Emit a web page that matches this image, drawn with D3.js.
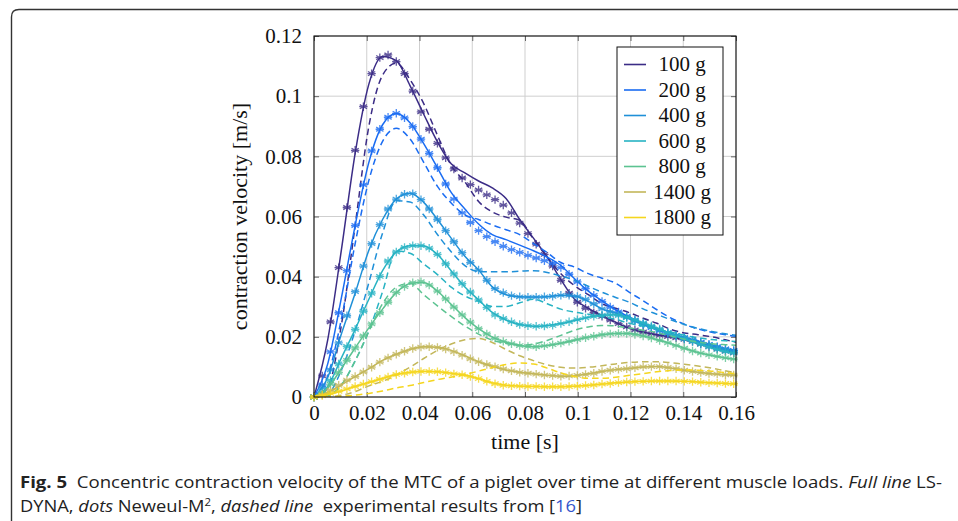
<!DOCTYPE html>
<html><head><meta charset="utf-8">
<script src="https://cdn.jsdelivr.net/npm/d3@7"></script>
<style>body{margin:0;background:#fff}svg{display:block}</style>
</head><body>
<svg id="c" width="958" height="521"></svg>
<script>
// ---------- data ----------
const loads = ["100 g","200 g","400 g","600 g","800 g","1400 g","1800 g"];
const colors = ["#3b2c86","#1a6cf2","#1f90d8","#27b3c3","#5cc391","#c3b75a","#f5d61e"];
const xTicks = [0,0.02,0.04,0.06,0.08,0.1,0.12,0.14,0.16];
const xTickLabels = ["0","0.02","0.04","0.06","0.08","0.1","0.12","0.14","0.16"];
const yTicks = [0,0.02,0.04,0.06,0.08,0.1,0.12];
const yTickLabels = ["0","0.02","0.04","0.06","0.08","0.1","0.12"];
const solidStep = 0.0052;   // sampling of LS-DYNA and experimental curves [s]
const dotStep = 0.00312;    // sampling of Neweul-M² points [s]

// LS-DYNA (full lines)
const solid100 = [0,.019,.049,.081,.104,.1132,.1118,.1035,.094,.0848,.0775,.0745,.0718,.0695,.066,.059,.0528,.0465,.039,.0325,.0295,.027,.0248,.0228,.0215,.0207,.02,.0192,.0178,.0165,.0153,.0145,.0138];
const solid200 = [0,.011,.033,.057,.078,.0905,.0942,.0912,.0842,.0762,.068,.0625,.0575,.054,.0523,.0505,.0486,.0465,.0437,.0393,.0352,.032,.029,.0265,.0245,.0225,.021,.0197,.0185,.0172,.016,.0152,.0145];
const solid400 = [0,.0065,.021,.0345,.0488,.059,.0658,.0677,.0647,.059,.0528,.0468,.0422,.0366,.034,.0333,.0332,.0333,.0338,.0336,.0318,.0293,.0279,.026,.0241,.0226,.021,.0197,.0183,.0171,.0159,.0149,.0142];
const solid600 = [0,.0035,.013,.0225,.0325,.042,.0482,.0503,.0502,.0474,.042,.0366,.0323,.0281,.0256,.0241,.0235,.0238,.0244,.0254,.0265,.0272,.0273,.0263,.0246,.0229,.021,.0193,.0178,.0163,.0151,.0143,.0137];
const solid800 = [0,.003,.0095,.0163,.023,.0292,.0347,.0377,.0381,.0352,.0308,.0264,.0227,.0199,.0182,.0171,.0167,.0171,.0179,.0189,.0199,.0207,.0211,.0211,.0203,.0191,.0178,.0162,.0148,.0138,.013,.0124,.012];
const solid1400 = [0,.0015,.004,.0068,.0094,.0122,.0142,.0158,.0167,.0165,.0155,.0137,.0117,.0102,.009,.0082,.0077,.0072,.0069,.0071,.0077,.0085,.0091,.0095,.01,.0101,.0096,.0089,.0082,.0077,.0074,.0072,.007];
const solid1800 = [0,.0008,.002,.0035,.0048,.0062,.0075,.0082,.0085,.0084,.0079,.0073,.0061,.0047,.0039,.0036,.0035,.0034,.0034,.0036,.0039,.0043,.0047,.005,.0052,.0053,.0053,.0052,.005,.0047,.0045,.0043,.0042];

// experimental (dashed lines)
const dashed100 = [0,.003,.024,.057,.09,.107,.111,.1055,.0975,.087,.077,.0715,.065,.0615,.0598,.0587,.0525,.0465,.041,.037,.034,.031,.0295,.028,.0262,.0245,.0225,.0213,.0207,.02,.019,.018,.017];
const dashed200 = [0,.007,.026,.051,.072,.085,.0893,.0858,.078,.07,.0645,.0605,.059,.0572,.0556,.054,.051,.048,.0447,.0432,.041,.0395,.0378,.0348,.032,.029,.0263,.0242,.0226,.0215,.0207,.0201,.0197];
const dashed400 = [0,.001,.009,.022,.038,.0545,.0652,.0648,.0605,.054,.0483,.0437,.0417,.0416,.0416,.0418,.042,.0414,.0402,.0388,.0368,.0348,.0331,.0315,.0293,.0275,.0257,.0241,.0228,.0218,.021,.0204,.0199];
const dashed600 = [0,.0005,.004,.012,.022,.035,.0485,.0478,.0442,.0407,.0365,.0336,.0318,.0301,.0301,.0313,.0325,.031,.0292,.0282,.0275,.0267,.0258,.0245,.0235,.0226,.0216,.0205,.0197,.0191,.0187,.0184,.0182];
const dashed800 = [0,.0003,.004,.012,.0218,.031,.0365,.0378,.034,.0303,.0268,.0236,.0209,.0189,.0178,.0172,.0176,.0188,.0205,.0222,.0233,.0238,.0236,.0229,.0222,.0214,.0203,.0192,.0183,.0177,.0174,.0172,.0171];
const dashed1400 = [0,.0001,.0006,.0018,.0037,.0052,.0073,.0099,.0128,.0155,.0176,.019,.0195,.0181,.0158,.0137,.0121,.0107,.0099,.0096,.0099,.0104,.011,.0115,.0117,.0117,.0114,.0109,.0103,.0096,.0087,.0079,.0074];
const dashed1800 = [0,0,.0002,.0006,.0012,.002,.003,.0038,.0048,.0058,.0066,.0075,.0086,.0098,.0108,.0113,.011,.0096,.008,.0068,.0062,.0062,.0066,.0072,.0078,.0084,.0088,.009,.0089,.0086,.0081,.0076,.0071];

// Neweul-M² (dots)
const dots100 = [0,.007,.025,.043,.063,.082,.0965,.1075,.1128,.1137,.1115,.1075,.1017,.0948,.089,.0843,.0795,.0758,.0728,.0706,.0688,.0672,.0656,.0638,.0612,.0578,.0543,.0508,.0474,.0435,.0388,.0345,.0315,.0295,.028,.0268,.0256,.0244,.0233,.0223,.0216,.021,.0205,.0201,.0197,.0192,.0185,.0176,.0168,.016,.0153,.0147,.0142,.0138];
const dots200 = [0,.004,.015,.028,.042,.057,.0705,.0818,.089,.093,.0943,.0928,.0899,.0857,.081,.0762,.0708,.0658,.0612,.058,.0553,.0533,.0516,.0501,.049,.0481,.0471,.0462,.0453,.0444,.043,.0408,.0383,.036,.0338,.0318,.0299,.0283,.0268,.0255,.0243,.0231,.022,.0211,.0204,.0197,.019,.0182,.0175,.0167,.016,.0155,.015,.0146];
const dots400 = [0,.003,.009,.018,.027,.035,.0435,.051,.0573,.0625,.0658,.0674,.0676,.0656,.0625,.059,.0553,.0516,.048,.0447,.0422,.0388,.036,.0347,.0337,.0333,.0332,.0332,.0333,.0335,.0338,.0338,.0334,.0325,.031,.0293,.0284,.0275,.0264,.0252,.0241,.0232,.0223,.0214,.0205,.0197,.0189,.0181,.0174,.0166,.0159,.0153,.0147,.0143];
const dots600 = [0,.0015,.0055,.011,.0168,.0225,.0285,.0345,.0401,.0452,.0482,.0497,.0503,.0503,.0495,.0474,.0443,.0409,.0377,.0349,.0323,.0297,.0272,.0261,.025,.0241,.0237,.0235,.0236,.0238,.0244,.025,.0257,.0263,.0268,.0272,.0273,.0271,.0265,.0256,.0246,.0236,.0226,.0214,.0203,.0193,.0184,.0175,.0166,.0158,.0151,.0146,.0141,.0138];
const dots800 = [0,.0012,.0043,.0082,.0122,.0163,.0203,.0243,.028,.0315,.0347,.0367,.038,.0383,.0372,.0352,.0326,.0299,.0273,.0249,.0227,.021,.0195,.0185,.0177,.0171,.0168,.0167,.017,.0174,.0179,.0185,.0191,.0197,.0202,.0207,.021,.0211,.0211,.0208,.0203,.0196,.0188,.018,.0171,.0162,.0153,.0146,.014,.0135,.013,.0126,.0123,.012];
const dots1400 = [0,.0008,.0023,.0039,.0056,.0068,.0083,.0099,.0116,.013,.0142,.0152,.0161,.0166,.0167,.0165,.0159,.015,.0139,.0127,.0117,.0108,.0101,.0093,.0087,.0082,.0079,.0076,.0073,.0071,.0069,.007,.0072,.0075,.0079,.0085,.0089,.0092,.0094,.0097,.01,.0101,.0101,.0098,.0094,.0089,.0085,.0081,.0078,.0076,.0074,.0073,.0072,.007];
const dots1800 = [0,.0005,.0012,.0019,.0027,.0035,.0043,.0051,.0059,.0067,.0075,.0079,.0083,.0085,.0085,.0084,.0081,.0077,.0074,.0068,.0061,.0052,.0044,.0039,.0037,.0036,.0035,.0035,.0034,.0034,.0034,.0035,.0036,.0038,.004,.0043,.0045,.0048,.005,.0051,.0052,.0053,.0053,.0053,.0053,.0052,.0051,.0049,.0047,.0046,.0045,.0044,.0043,.0042];

const solids = [solid100,solid200,solid400,solid600,solid800,solid1400,solid1800];
const dashes = [dashed100,dashed200,dashed400,dashed600,dashed800,dashed1400,dashed1800];
const dots = [dots100,dots200,dots400,dots600,dots800,dots1400,dots1800];

// ---------- drawing ----------
const svg = d3.select("#c");
const serif = "'Liberation Serif','Times New Roman',serif";
const L = 314, R = 736, T = 36, B = 397;
const x = d3.scaleLinear().domain([0, 0.16]).range([L, R]);
const y = d3.scaleLinear().domain([0, 0.12]).range([B, T]);

// outer figure frame (rounded corner, open at right/bottom)
svg.append("path")
  .attr("d", "M11.5,530 V17 Q11.5,9.5 19,9.5 H975")
  .attr("fill", "none").attr("stroke", "#333").attr("stroke-width", 1.4);

svg.append("clipPath").attr("id", "clip")
  .append("rect").attr("x", L).attr("y", T).attr("width", R - L).attr("height", B - T);

// grid
const grid = svg.append("g").attr("stroke", "#cfcfcf").attr("stroke-width", 1);
grid.selectAll(".gx").data(xTicks).join("line")
  .attr("x1", d => x(d)).attr("x2", d => x(d)).attr("y1", T).attr("y2", B);
grid.selectAll(".gy").data(yTicks).join("line")
  .attr("y1", d => y(d)).attr("y2", d => y(d)).attr("x1", L).attr("x2", R);

// axes
function styleAxis(g, labels) {
  g.select(".domain").remove();
  g.selectAll(".tick line").attr("stroke", "#555").attr("stroke-width", 0.9);
  g.selectAll(".tick text").attr("font-family", serif).attr("font-size", 21).attr("fill", "#111");
  if (!labels) g.selectAll(".tick text").remove();
}
svg.append("g").attr("transform", `translate(0,${B})`)
  .call(d3.axisBottom(x).tickValues(xTicks).tickFormat((d, i) => xTickLabels[i]).tickSizeInner(-5).tickSizeOuter(0).tickPadding(8))
  .call(g => styleAxis(g, true));
svg.append("g").attr("transform", `translate(0,${T})`)
  .call(d3.axisTop(x).tickValues(xTicks).tickSizeInner(-5).tickSizeOuter(0))
  .call(g => styleAxis(g, false));
svg.append("g").attr("transform", `translate(${L},0)`)
  .call(d3.axisLeft(y).tickValues(yTicks).tickFormat((d, i) => yTickLabels[i]).tickSizeInner(-5).tickSizeOuter(0).tickPadding(12))
  .call(g => styleAxis(g, true));
svg.append("g").attr("transform", `translate(${R},0)`)
  .call(d3.axisRight(y).tickValues(yTicks).tickSizeInner(-5).tickSizeOuter(0))
  .call(g => styleAxis(g, false));

// curves
const line = d3.line().x(d => x(d[0])).y(d => y(d[1])).curve(d3.curveMonotoneX);
const plot = svg.append("g");
const ast = r => {
  const a = r * 0.866, b = r * 0.5;
  return `M0,${-r}V${r}M${-a},${-b}L${a},${b}M${-a},${b}L${a},${-b}M${-r},0H${r}`;
};
loads.forEach((name, i) => {
  const c = colors[i];
  const dashPts = dashes[i].map((v, k) => [k * solidStep, v]);
  const solidPts = solids[i].map((v, k) => [k * solidStep, v]);
  const dotPts = dots[i].map((v, k) => [k * dotStep, v]).filter(d => d[0] <= 0.1602);
  plot.append("path").attr("d", line(dashPts)).attr("clip-path", "url(#clip)")
    .attr("fill", "none").attr("stroke", c).attr("stroke-width", 1.5).attr("stroke-dasharray", "6.5,4");
  plot.append("path").attr("d", line(solidPts)).attr("clip-path", "url(#clip)")
    .attr("fill", "none").attr("stroke", c).attr("stroke-width", 1.5);
  plot.append("g").selectAll("path").data(dotPts).join("path")
    .attr("transform", d => `translate(${x(d[0])},${y(d[1])})`)
    .attr("d", ast(4.2)).attr("fill", "none").attr("stroke", c)
    .attr("stroke-opacity", 0.8).attr("stroke-width", 1.3);
});

// axis box
svg.append("rect").attr("x", L).attr("y", T).attr("width", R - L).attr("height", B - T)
  .attr("fill", "none").attr("stroke", "#111").attr("stroke-width", 1.1);

// axis titles
svg.append("text").attr("x", (L + R) / 2).attr("y", 449).attr("text-anchor", "middle")
  .attr("font-family", serif).attr("font-size", 22).attr("fill", "#111").text("time [s]");
svg.append("text").attr("transform", `translate(247,${(T + B) / 2}) rotate(-90)`)
  .attr("text-anchor", "middle").attr("font-family", serif).attr("font-size", 22).attr("fill", "#111")
  .text("contraction velocity [m/s]");

// legend
const lg = svg.append("g");
lg.append("rect").attr("x", 617).attr("y", 47).attr("width", 106).attr("height", 188)
  .attr("fill", "#fff").attr("stroke", "#111").attr("stroke-width", 1);
loads.forEach((name, i) => {
  const yy = 64.5 + i * 25.5;
  lg.append("line").attr("x1", 624).attr("x2", 646).attr("y1", yy).attr("y2", yy)
    .attr("stroke", colors[i]).attr("stroke-width", 1.6);
  lg.append("text").attr("x", 682).attr("y", yy).attr("dy", "0.33em").attr("text-anchor", "middle")
    .attr("font-family", serif).attr("font-size", 21).attr("fill", "#111").text(name);
});

// caption
const sans = "'Open Sans','Noto Sans',sans-serif";
const cap1 = svg.append("text").attr("x", 20).attr("y", 488).attr("font-family", sans)
  .attr("font-size", 16).attr("fill", "#222").style("white-space", "pre");
cap1.append("tspan").attr("font-weight", "bold").text("Fig. 5");
cap1.append("tspan").text("  Concentric contraction velocity of the MTC of a piglet over time at different muscle loads. ");
cap1.append("tspan").attr("font-style", "italic").text("Full line");
cap1.append("tspan").text(" LS-");
cap1.attr("textLength", 922).attr("lengthAdjust", "spacingAndGlyphs");

const cap2 = svg.append("text").attr("x", 20).attr("y", 512).attr("font-family", sans)
  .attr("font-size", 16).attr("fill", "#222").style("white-space", "pre");
cap2.append("tspan").text("DYNA, ");
cap2.append("tspan").attr("font-style", "italic").text("dots");
cap2.append("tspan").text(" Neweul-M");
cap2.append("tspan").attr("font-size", 10).attr("dy", -6).text("2");
cap2.append("tspan").attr("dy", 6).text(", ");
cap2.append("tspan").attr("font-style", "italic").text("dashed line");
cap2.append("tspan").text("  experimental results from [");
cap2.append("tspan").attr("fill", "#3355cc").text("16");
cap2.append("tspan").text("]");
cap2.attr("textLength", 562).attr("lengthAdjust", "spacingAndGlyphs");
</script>
</body></html>
